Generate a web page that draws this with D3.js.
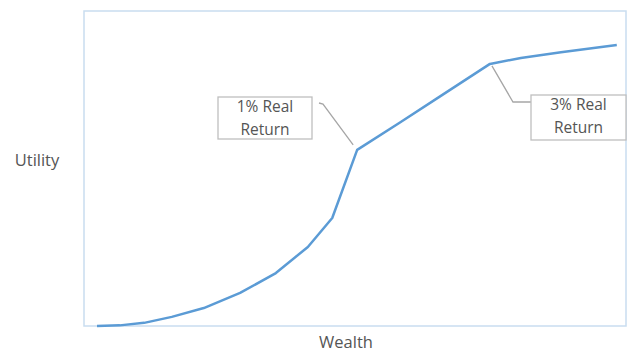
<!DOCTYPE html>
<html><head><meta charset="utf-8">
<script src="https://cdn.jsdelivr.net/npm/d3@7"></script>
<style>body{margin:0;background:#fff}</style>
</head><body>
<svg id="chart" width="628" height="352"></svg>
<script>
// Data (arbitrary 0-100 units)
const wealth  = [2.4, 6.6, 11.1, 16.2, 22.1, 28.8, 35.4, 41.3, 45.8, 50.4, 58.3, 65.7, 74.9, 80.6, 88.0, 98.3];
const utility = [0.0, 0.2, 1.0, 2.9, 5.7, 10.5, 16.8, 25.1, 34.3, 55.9, 64.6, 72.9, 83.2, 85.1, 86.9, 89.2];
const annotationLabels = [["1% Real", "Return"], ["3% Real", "Return"]];
const annotationIndex = [9, 12];
const xTitle = "Wealth";
const yTitle = "Utility";

(function () {
const svg = d3.select("#chart");
const pL = 84, pR = 626, pT = 11, pB = 326;
const x = d3.scaleLinear().domain([0, 100]).range([pL, pR]);
const y = d3.scaleLinear().domain([0, 100]).range([pB, pT]);
const font = "'Open Sans', sans-serif";
const txt = "#555555";

svg.append("rect").attr("x", pL).attr("y", pT)
  .attr("width", pR - pL).attr("height", pB - pT)
  .attr("fill", "none").attr("stroke", "#c9ddf0").attr("stroke-width", 1.5);

const pts = wealth.map((w, i) => [w, utility[i]]);
svg.append("path").datum(pts)
  .attr("d", d3.line().x(d => x(d[0])).y(d => y(d[1])))
  .attr("fill", "none").attr("stroke", "#5b9bd5").attr("stroke-width", 2.5)
  .attr("stroke-linejoin", "round");

const boxes = [
  {bx: 218, by: 97, bw: 94, bh: 42, leader: p => [[319, 103], [323, 104], [p[0] - 4, p[1] - 5]]},
  {bx: 531, by: 95, bw: 95, bh: 45, leader: p => [[p[0] + 2, p[1] + 2], [513, 102], [531, 102]]}
];
boxes.forEach((b, k) => {
  const i = annotationIndex[k];
  const p = [x(wealth[i]), y(utility[i])];
  svg.append("path").attr("d", d3.line()(b.leader(p)))
    .attr("fill", "none").attr("stroke", "#a6a6a6").attr("stroke-width", 1.3);
  svg.append("rect").attr("x", b.bx).attr("y", b.by).attr("width", b.bw).attr("height", b.bh)
    .attr("fill", "#fff").attr("stroke", "#bfbfbf").attr("stroke-width", 1.3);
  annotationLabels[k].forEach((t, j) => {
    svg.append("text").attr("x", b.bx + b.bw / 2).attr("y", b.by + 15 + j * 23)
      .attr("text-anchor", "middle").attr("font-family", font).attr("font-size", 15.5)
      .attr("fill", txt).text(t);
  });
});

svg.append("text").attr("x", 346).attr("y", 348).attr("text-anchor", "middle")
  .attr("font-family", font).attr("font-size", 16.5).attr("fill", txt).text(xTitle);
svg.append("text").attr("x", 37).attr("y", 166).attr("text-anchor", "middle")
  .attr("font-family", font).attr("font-size", 16.5).attr("fill", txt).text(yTitle);
})();
</script>
</body></html>
